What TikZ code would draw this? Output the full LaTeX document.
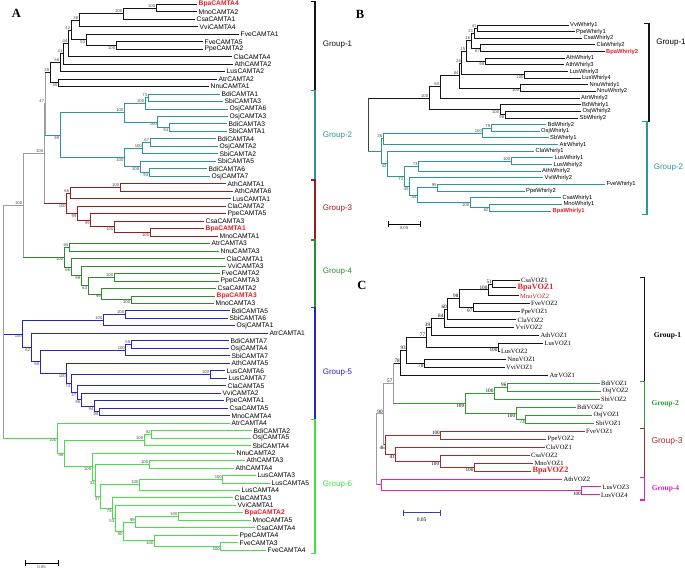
\documentclass[tikz,border=0pt]{standalone}
\usepackage{fontspec}
\setmainfont{Liberation Serif}
\setsansfont{Liberation Sans}
\usepackage{tikz}

\definecolor{gOne}{HTML}{151515}
\definecolor{gTwo}{HTML}{2B9696}
\definecolor{gThree}{HTML}{9A1C1C}
\definecolor{gFour}{HTML}{2C8C2C}
\definecolor{gFive}{HTML}{2424C8}
\definecolor{gSix}{HTML}{44E044}
\definecolor{hot}{HTML}{E61E2A}
\definecolor{stem}{HTML}{9C9C9C}
\definecolor{cTwo}{HTML}{2F9B2F}
\definecolor{cThree}{HTML}{A52A2A}
\definecolor{cFour}{HTML}{E020C0}
\definecolor{bar}{HTML}{3C3CB4}

\tikzset{
  lfA/.style={anchor=west,inner sep=1.2pt,font=\sffamily\fontsize{6.7}{6.7}\selectfont},
  hotA/.style={lfA,text=hot,font=\sffamily\bfseries\fontsize{6.7}{6.7}\selectfont},
  lfB/.style={anchor=west,inner sep=1.2pt,font=\sffamily\fontsize{5.8}{5.8}\selectfont},
  hotB/.style={lfB,text=hot,font=\sffamily\bfseries\fontsize{5.8}{5.8}\selectfont},
  lfC/.style={anchor=west,inner sep=1.2pt,font=\fontsize{6.5}{6.5}\selectfont},
  hotC/.style={lfC,text=hot,font=\bfseries\fontsize{8.2}{8.2}\selectfont},
  bs/.style={inner sep=0.4pt,text=black!70,font=\sffamily\fontsize{4.2}{4.2}\selectfont},
  bu/.style={label={[bs]above left:#1}},
  bd/.style={label={[bs]below left:#1}},
  grp/.style={anchor=west,font=\sffamily\fontsize{8}{8}\selectfont},
  grpC/.style={anchor=west,font=\bfseries\fontsize{7.5}{7.5}\selectfont},
  panel/.style={font=\bfseries\fontsize{12.5}{12.5}\selectfont},
  sbar/.style={|-|,line width=0.5pt},
}

\begin{document}
\begin{tikzpicture}[x=1pt,y=-1pt]
\fill[white] (0,0) rectangle (685,572);
\useasboundingbox (0,0) rectangle (685,572);

% ---------- A: CAMTA
\node[panel] (pA) at (16.5,13) {A};
\begin{scope}[y=-7.48pt,yshift=3.18pt,line width=1pt]
  \foreach \n/\x/\i in {MnoCAMTA2/197/2, CsaCAMTA1/195/3, VviCAMTA4/198/4, FveCAMTA1/239/5, FveCAMTA5/203/6, PpeCAMTA2/203/7, ClaCAMTA4/232/8, AthCAMTA2/233/9, LusCAMTA2/225/10, AtrCAMTA2/217/11, NnuCAMTA1/209/12,
      BdiCAMTA1/220/13, SbiCAMTA3/223/14, OsjCAMTA6/228/15, OsjCAMTA3/228/16, BdiCAMTA3/227/17, SbiCAMTA1/227/18, BdiCAMTA4/216/19, OsjCAMTA2/218/20, SbiCAMTA2/218/21, SbiCAMTA5/216/22, BdiCAMTA6/207/23, OsjCAMTA7/210/24,
      AthCAMTA1/226/25, AthCAMTA6/233/26, LusCAMTA1/231/27, ClaCAMTA2/226/28, PpeCAMTA5/226/29, CsaCAMTA3/204/30, MnoCAMTA1/218/32,
      AtrCAMTA3/210/33, NnuCAMTA3/219/34, ClaCAMTA1/225/35, VviCAMTA3/226/36, FveCAMTA2/220/37, PpeCAMTA3/219/38, CsaCAMTA2/216/39, MnoCAMTA3/214/41,
      BdiCAMTA5/230/42, SbiCAMTA6/228/43, OsjCAMTA1/235/44, AtrCAMTA1/268/45, BdiCAMTA7/229/46, OsjCAMTA4/229/47, SbiCAMTA7/230/48, AthCAMTA5/230/49, LusCAMTA6/225/50, LusCAMTA7/227/51, ClaCAMTA5/226/52, VviCAMTA2/221/53, PpeCAMTA1/224/54, CsaCAMTA5/228/55, MnoCAMTA4/230/56,
      AtrCAMTA4/230/57, BdiCAMTA2/252/58, OsjCAMTA5/251/59, SbiCAMTA4/251/60, NnuCAMTA2/235/61, AthCAMTA3/245/62, AthCAMTA4/234/63, LusCAMTA3/256/64, LusCAMTA5/270/65, LusCAMTA4/240/66, ClaCAMTA3/233/67, VviCAMTA1/236/68, MnoCAMTA5/251/70, CsaCAMTA4/255/71, PpeCAMTA4/238/72, FveCAMTA3/238/73, FveCAMTA4/266/74}
    \node[lfA] (\n) at (\x,\i) {\n};
  \foreach \n/\x/\i in {BpaCAMTA4/197/1, BpaCAMTA1/204/31, BpaCAMTA3/215/40, BpaCAMTA2/243/69}
    \node[hotA] (\n) at (\x,\i) {\n};
  % inner nodes, support value above or below
  \foreach \c/\x/\y/\v in {a1/156/1.5/100, a2/123/2.25/100, a3/79/3.125/38, a4/71/4.44/42, a7/68.3/6.22/44, a8/63.3/7.61/41, a9/60/8.8/56, a11/50/10.15/39,
      b1/148/13.5/73, b2/145/14.25/100, b5/124.3/15.5/100, b6/150/19.5/67, b7/142.7/20.25/100, c1/120/25.5/100, c2/70/26.25/65, d1/69.3/33.5/65, d5/114/37.5/100,
      e1/125/42.5/100, e2/103.3/43.25/100, e3/131/46.5/59, e4/125.7/47.25/100, e5/210/50.5/100, f1/151.7/58.5/82, f2/144/59.25/100, f3/149/62.5/100, f4/222.7/64.5/100,
      f5/139.3/65.25/100, f6/178.3/69.5/100, f7/135.7/70.25/99, g1/45/14.3/47, gX/44/20.95/100, gY/23/27.9/100}
    \coordinate[bu=\v] (\c) at (\x,\y);
  \foreach \c/\x/\y/\v in {a5/116/6.5/100, a6/86/5.75/53, a10/58.3/11.5/35, b3/169/17.5/94, b4/157.7/16.75/100, b8/149/23.5/93, b9/140/22.75/100, b10/124.3/21.5/100, b11/60/18.5/99,
      c3/66.7/27.6/100, c4/77.3/28.94/99, c5/90.7/29.875/99, c6/114.3/30.75/100, c7/150/31.5/100, d2/71/36.15/66, d3/81/37.3/98, d6/88/38.6/63, d7/64/34.8/100, d8/101.7/39.75/99, d9/131/40.5/100,
      e6/66.7/50.36/100, e7/71/51.72/74, e8/77/52.94/37, e9/81/53.875/96, e10/94.3/54.75/94, e11/99.3/55.5/98, e12/40/48.8/88, e13/31/46.9/62, e14/22.7/45.08/100,
      f8/220.7/73.5/100, f9/154.3/72.75/100, f10/123.3/71.5/90, f11/115/69.75/53, f12/112.5/68.375/75, f13/100.7/66.8/37, f14/95.5/64.65/33, f15/92/62.8/100, f16/64.3/61/58, f17/57.3/59/100}
    \coordinate[bd=\v] (\c) at (\x,\y);
  \coordinate (gR) at (3,43.45);
  % branches
  \foreach \p/\c in {a1/BpaCAMTA4, a1/MnoCAMTA2, a2/a1, a2/CsaCAMTA1, a3/a2, a3/VviCAMTA4, a5/FveCAMTA5, a5/PpeCAMTA2, a6/FveCAMTA1, a6/a5, a4/a3, a4/a6,
      a7/a4, a7/ClaCAMTA4, a8/a7, a8/AthCAMTA2, a9/a8, a9/LusCAMTA2, a10/AtrCAMTA2, a10/NnuCAMTA1, a11/a9, a11/a10}
    \draw[gOne] (\p) |- (\c);
  \foreach \p/\c in {b1/BdiCAMTA1, b1/SbiCAMTA3, b2/b1, b2/OsjCAMTA6, b3/BdiCAMTA3, b3/SbiCAMTA1, b4/OsjCAMTA3, b4/b3, b5/b2, b5/b4, b6/BdiCAMTA4, b6/OsjCAMTA2,
      b7/b6, b7/SbiCAMTA2, b8/BdiCAMTA6, b8/OsjCAMTA7, b9/SbiCAMTA5, b9/b8, b10/b7, b10/b9, b11/b5, b11/b10}
    \draw[gTwo] (\p) |- (\c);
  \foreach \p/\c in {c1/AthCAMTA1, c1/AthCAMTA6, c2/c1, c2/LusCAMTA1, c7/BpaCAMTA1, c7/MnoCAMTA1, c6/CsaCAMTA3, c6/c7, c5/PpeCAMTA5, c5/c6, c4/ClaCAMTA2, c4/c5, c3/c2, c3/c4}
    \draw[gThree] (\p) |- (\c);
  \foreach \p/\c in {d1/AtrCAMTA3, d1/NnuCAMTA3, d5/FveCAMTA2, d5/PpeCAMTA3, d9/BpaCAMTA3, d9/MnoCAMTA3, d8/CsaCAMTA2, d8/d9, d6/d5, d6/d8, d3/VviCAMTA3, d3/d6, d2/ClaCAMTA1, d2/d3, d7/d1, d7/d2}
    \draw[gFour] (\p) |- (\c);
  \foreach \p/\c in {e1/BdiCAMTA5, e1/SbiCAMTA6, e2/e1, e2/OsjCAMTA1, e3/BdiCAMTA7, e3/OsjCAMTA4, e4/e3, e4/SbiCAMTA7, e5/LusCAMTA6, e5/LusCAMTA7, e11/CsaCAMTA5, e11/MnoCAMTA4,
      e10/PpeCAMTA1, e10/e11, e9/VviCAMTA2, e9/e10, e8/ClaCAMTA5, e8/e9, e7/e5, e7/e8, e6/AthCAMTA5, e6/e7, e12/e4, e12/e6, e13/AtrCAMTA1, e13/e12, e14/e2, e14/e13}
    \draw[gFive] (\p) |- (\c);
  \foreach \p/\c in {f1/BdiCAMTA2, f1/OsjCAMTA5, f2/f1, f2/SbiCAMTA4, f3/AthCAMTA3, f3/AthCAMTA4, f4/LusCAMTA3, f4/LusCAMTA5, f5/f4, f5/LusCAMTA4, f6/BpaCAMTA2, f6/MnoCAMTA5,
      f7/f6, f7/CsaCAMTA4, f8/FveCAMTA3, f8/FveCAMTA4, f9/PpeCAMTA4, f9/f8, f10/f7, f10/f9, f11/VviCAMTA1, f11/f10, f12/ClaCAMTA3, f12/f11, f13/f5, f13/f12,
      f14/f3, f14/f13, f15/NnuCAMTA2, f15/f14, f16/f2, f16/f15, f17/AtrCAMTA4, f17/f16}
    \draw[gSix] (\p) |- (\c);
  \foreach \p/\c/\k in {g1/a11/gOne, g1/b11/gTwo, gX/g1/stem, gX/c3/gThree, gY/gX/stem, gY/d7/gFour, gR/gY/stem, gR/e14/gFive, gR/f17/gSix}
    \draw[\k] (\p) |- (\c);
  \foreach \p/\u/\v in {g1/a11/b11, gX/g1/c3, gY/gX/d7, gR/gY/f17}
    \draw[stem] (\p |- \u) -- (\p |- \v);
  % groups
  \foreach \t/\b/\k/\g/\y in {0.65/12.5/gOne/1/6.44, 12.5/24.5/gTwo/2/18.57, 24.5/32.5/gThree/3/28.37, 32.5/41.5/gFour/4/36.79, 41.5/56.5/gFive/5/50.29, 56.5/74.4/gSix/6/65.26}{
    \draw[\k,line width=1.2pt] (311,\t) -- (315,\t) -- (315,\b) -- (311,\b);
    \node[grp,text=\k] (grpA\g) at (319,\y) {Group-\g};
  }
\end{scope}
\coordinate (sA0) at (25,563);
\coordinate (sA1) at (58,563);
\draw[sbar] (sA0) -- (sA1) node[midway,below=1.5pt,bs] (sAl) {0.05};

% ---------- B: Whirly
\node[panel] (pB) at (360,14) {B};
\begin{scope}[y=-6.643pt,yshift=-18.36pt,line width=0.9pt]
  \foreach \n/\x/\i in {VviWhirly1/568.5/1, PpeWhirly1/574.5/2, CsaWhirly2/582/3, ClaWhirly2/595/4, AthWhirly1/564.5/6, AthWhirly3/564/7, LusWhirly3/568/8, LusWhirly4/580.5/9,
      NnuWhirly1/588/10, NnuWhirly2/595.5/11, AtrWhirly2/579.5/12, BdWhirly1/580.5/13, OsjWhirly2/581/14, SbWhirly2/578/15, BdWhirly2/546/16, OsjWhirly1/539.5/17,
      SbWhirly1/548.5/18, AtrWhirly1/558/19, ClaWhirly1/534/20, LusWhirly1/553/21, LusWhirly2/552/22, AthWhirly2/540.5/23, VviWhirly2/543/24, FveWhirly1/605/25,
      PpeWhirly2/524.5/26, CsaWhirly1/561/27, MnoWhirly1/562/28}
    \node[lfB] (\n) at (\x,\i) {\n};
  \foreach \n/\x/\i in {BpaWhirly2/604.5/5, BpaWhirly1/551/29}
    \node[hotB] (\n) at (\x,\i) {\n};
  \foreach \c/\x/\y/\v in {h1/477.3/1.5/41, h2/474/2.25/21, h3/471/3.375/16, h6/466/4.94/15, h8/461.7/6.72/26, h10/459.3/8.61/84, h11/440/10.3/60, h14/429/12.03/100,
      k1/491/16.5/79, k2/482.7/17.25/100, k3/383/18.1/36, k4/511/21.5/100, k5/418.3/22.25/73, k8/437.3/25.5/95}
    \coordinate[bu=\v] (\c) at (\x,\y);
  \foreach \c/\x/\y/\v in {h4/480.7/4.5/67, h5/485/6.5/98, h7/524.3/8.5/100, h9/520/10.5/100, h12/505/14.5/98, h13/500/13.75/100,
      k7/489.3/28.5/62, k6/470/27.75/100, k9/417.3/26.6/45, k10/409.3/25.3/40, k11/404/23.8/72, k12/387.3/21.9/42}
    \coordinate[bd=\v] (\c) at (\x,\y);
  \coordinate (k13) at (381.5,20);
  \coordinate (r0) at (368.3,16);
  \foreach \p/\c in {h1/VviWhirly1, h1/PpeWhirly1, h2/h1, h2/CsaWhirly2, h4/ClaWhirly2, h4/BpaWhirly2, h3/h2, h3/h4, h5/AthWhirly1, h5/AthWhirly3, h6/h3, h6/h5,
      h7/LusWhirly3, h7/LusWhirly4, h8/h6, h8/h7, h9/NnuWhirly1, h9/NnuWhirly2, h10/h8, h10/h9, h11/h10, h11/AtrWhirly2, h12/OsjWhirly2, h12/SbWhirly2,
      h13/BdWhirly1, h13/h12, h14/h11, h14/h13, r0/h14}
    \draw[gOne] (\p) |- (\c);
  \foreach \p/\c in {k1/BdWhirly2, k1/OsjWhirly1, k2/k1, k2/SbWhirly1, k3/k2, k3/AtrWhirly1, k4/LusWhirly1, k4/LusWhirly2, k5/k4, k5/AthWhirly2, k7/MnoWhirly1, k7/BpaWhirly1,
      k6/CsaWhirly1, k6/k7, k8/FveWhirly1, k8/PpeWhirly2, k9/k8, k9/k6, k10/VviWhirly2, k10/k9, k11/k5, k11/k10, k12/ClaWhirly1, k12/k11, k13/k3, k13/k12, r0/k13}
    \draw[gTwo] (\p) |- (\c);
  \draw[black!75] (r0 |- h14) -- (r0 |- k13);
  \draw[gOne,line width=1.1pt] (644,0.74) -- (649,0.74) -- (649,15.5) -- (644,15.5);
  \draw[gTwo,line width=1.1pt] (642,15.55) -- (647,15.55) -- (647,29.5) -- (642,29.5);
  \node[grp] (grpB1) at (652.5,3.66) {Group-1};
  \node[grp,text=gTwo] (grpB2) at (650,22.48) {Group-2};
\end{scope}
\coordinate (sB0) at (388,224);
\coordinate (sB1) at (420,224);
\draw[sbar] (sB0) -- (sB1) node[midway,below=1.5pt,bs] (sBl) {0.05};

% ---------- C: VOZ
\node[panel] (pC) at (362,285.5) {C};
\begin{scope}[y=-7.96pt,yshift=-272.04pt,line width=0.95pt,bs/.style={inner sep=0.4pt,font=\fontsize{5.2}{5.2}\selectfont}]
  \foreach \n/\x/\i in {CsaVOZ1/519.5/1, FveVOZ2/529.5/4, PpeVOZ1/519.5/5, ClaVOZ2/516/6, VviVOZ2/514/7, AthVOZ1/539/8, LusVOZ1/543/9, LusVOZ2/499.5/10,
      NnuVOZ1/506/11, VviVOZ1/504.5/12, AtrVOZ1/548/13, BdiVOZ1/599.5/14, OsjVOZ2/601/15, SbiVOZ2/599.5/16, BdiVOZ2/575.5/17, OsjVOZ1/592/18, SbiVOZ1/594/19,
      FveVOZ1/584.5/20, PpeVOZ2/546/21, ClaVOZ1/544.5/22, CsaVOZ2/529.5/23, MnoVOZ1/533/24, AthVOZ2/562/26, LusVOZ3/601/27, LusVOZ4/599.5/28}
    \node[lfC] (\n) at (\x,\i) {\n};
  \node[hotC] (BpaVOZ1) at (516,2) {BpaVOZ1};
  \node[lfC,text=cThree] (MnoVOZ2) at (518.5,3) {MnoVOZ2};
  \node[hotC] (BpaVOZ2) at (531,25) {BpaVOZ2};
  \foreach \c/\x/\y/\v in {m1/492.7/1.5/51, m2/488.3/2.25/100, m4/459.3/3.375/98, m5/447.7/4.69/60, m6/444.3/5.84/84, m7/431/6.92/39, m9/426/8.21/77,
      m11/406.7/9.86/93, m12/400.7/11.43/78, n1/507.3/14.5/96, n2/494.3/15.25/100, p1/440.7/20.5/100, q1/393.3/13.97/57, q2/383.5/17.83/90}
    \coordinate[bu=\v] (\c) at (\x,\y);
  \foreach \c/\x/\y/\v in {m3/473.3/4.5/97, m8/498.3/9.5/100, m10/424.3/11.5/70, n3/525.7/18.5/73, n4/516/17.75/100, n5/465/16.5/100,
      p2/474.3/24.5/100, p3/440/23.75/100, p4/395.7/22.875/41, p5/385.7/21.69/46, s1/581.7/27.5/100}
    \coordinate[bd=\v] (\c) at (\x,\y);
  \coordinate (s2) at (381.7,26.75);
  \coordinate (q3) at (376,22.29);
  \foreach \p/\c in {m1/CsaVOZ1, m1/BpaVOZ1, m2/m1, m2/MnoVOZ2, m3/FveVOZ2, m3/PpeVOZ1, m4/m2, m4/m3, m5/m4, m5/ClaVOZ2, m6/m5, m6/VviVOZ2,
      m7/m6, m7/AthVOZ1, m8/LusVOZ1, m8/LusVOZ2, m9/m7, m9/m8, m10/NnuVOZ1, m10/VviVOZ1, m11/m9, m11/m10, m12/m11, m12/AtrVOZ1, q1/m12}
    \draw[gOne] (\p) |- (\c);
  \foreach \p/\c in {n1/BdiVOZ1, n1/OsjVOZ2, n2/n1, n2/SbiVOZ2, n3/OsjVOZ1, n3/SbiVOZ1, n4/BdiVOZ2, n4/n3, n5/n2, n5/n4, q1/n5}
    \draw[cTwo] (\p) |- (\c);
  \foreach \p/\c in {p1/FveVOZ1, p1/PpeVOZ2, p2/MnoVOZ1, p2/BpaVOZ2, p3/CsaVOZ2, p3/p2, p4/ClaVOZ1, p4/p3, p5/p1, p5/p4, q2/p5}
    \draw[cThree] (\p) |- (\c);
  \foreach \p/\c in {s1/LusVOZ3, s1/LusVOZ4, s2/AthVOZ2, s2/s1, q3/s2}
    \draw[cFour] (\p) |- (\c);
  \foreach \p/\c in {q2/q1, q3/q2}
    \draw[stem] (\p) |- (\c);
  \foreach \p/\u/\v in {q1/m12/n5, q2/q1/p5, q3/q2/s2}
    \draw[stem] (\p |- \u) -- (\p |- \v);
  \foreach \t/\b/\k in {0.66/13.78/gOne, 13.78/19.63/cTwo, 19.63/25.79/cThree, 25.79/28.64/cFour}
    \draw[\k,line width=1.1pt] (640,\t) -- (644.3,\t) -- (644.3,\b) -- (640,\b);
  \node[grpC] (grpC1) at (650,8.04) {Group-1};
  \node[grpC,text=cTwo] (grpC2) at (647.7,16.58) {Group-2};
  \node[grp,text=cThree,font=\sffamily\fontsize{8.5}{8.5}\selectfont] (grpC3) at (647.7,21.3) {Group-3};
  \node[grpC,text=cFour] (grpC4) at (648,27.2) {Group-4};
\end{scope}
\coordinate (sC0) at (403.3,512.7);
\coordinate (sC1) at (440,512.7);
\draw[sbar,bar] (sC0) -- (sC1) node[midway,below=2pt,text=black,font=\fontsize{5.5}{5.5}\selectfont] (sCl) {0.05};
\end{tikzpicture}
\end{document}
